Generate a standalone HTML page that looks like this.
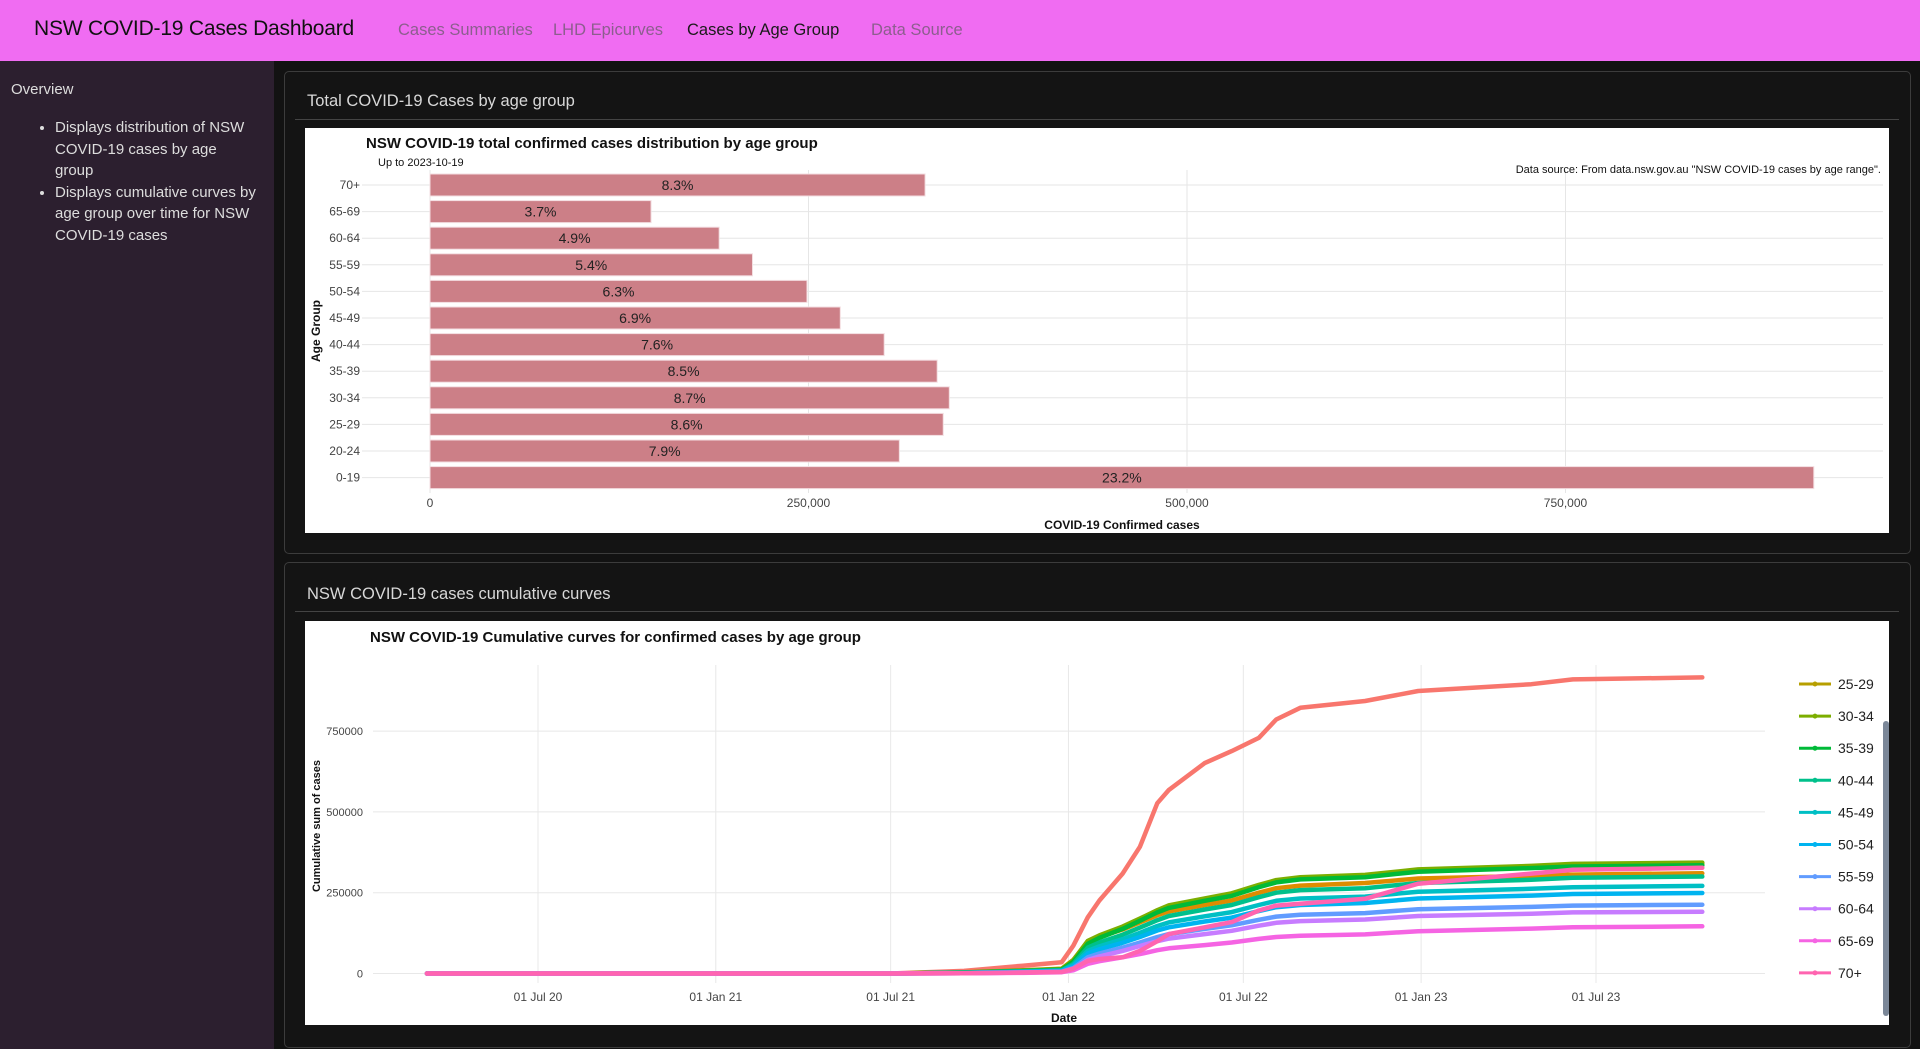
<!DOCTYPE html>
<html><head><meta charset="utf-8"><style>
html,body{margin:0;width:1920px;height:1049px;overflow:hidden}
body{background:#121212;font-family:"Liberation Sans",sans-serif;position:relative}
.abs{position:absolute}
#nav{left:0;top:0;width:1920px;height:61px;background:#f06cf2}
#nav .brand{left:34px;top:17px;font-size:21px;color:#111;letter-spacing:-0.2px}
#nav .lnk{top:21px;font-size:16.5px;color:#8c5e8e}
#side{left:0;top:61px;width:274px;height:988px;background:#2c1f2f}
.card{border:1px solid #3c3c3c;border-radius:5px;background:#141414}
.ch{font-size:16.5px;color:#d8d8d8}
.sep{height:1px;background:#444}
</style></head><body>
<div id="nav" class="abs">
<div class="abs brand">NSW COVID-19 Cases Dashboard</div>
<div class="abs lnk" style="left:398px">Cases Summaries</div>
<div class="abs lnk" style="left:553px">LHD Epicurves</div>
<div class="abs lnk" style="left:687px;color:#1a1a1a">Cases by Age Group</div>
<div class="abs lnk" style="left:871px">Data Source</div>
</div>
<div id="side" class="abs">
<div class="abs" style="left:11px;top:20px;font-size:15px;color:#ddd">Overview</div>
<ul class="abs" style="left:0;top:56px;margin:0;padding-left:55px;width:215px;font-size:15px;line-height:21.5px;color:#ddd;white-space:nowrap">
<li>Displays distribution of NSW<br>COVID-19 cases by age<br>group</li>
<li>Displays cumulative curves by<br>age group over time for NSW<br>COVID-19 cases</li>
</ul></div>

<div class="abs card" style="left:284px;top:71px;width:1625px;height:481px"></div>
<div class="abs ch" style="left:307px;top:92px">Total COVID-19 Cases by age group</div>
<div class="abs sep" style="left:295px;top:119px;width:1604px"></div>
<div class="abs card" style="left:284px;top:562px;width:1625px;height:484px"></div>
<div class="abs ch" style="left:307px;top:585px">NSW COVID-19 cases cumulative curves</div>
<div class="abs sep" style="left:295px;top:611px;width:1604px"></div>

<svg class="abs" id="bar" style="left:305px;top:128px" width="1584" height="405"></svg>
<svg class="abs" id="line" style="left:305px;top:621px" width="1584" height="404"></svg>

<script>
const NS='http://www.w3.org/2000/svg';
function mk(p,t,a){const e=document.createElementNS(NS,t);for(const k in a)e.setAttribute(k,a[k]);p.appendChild(e);return e;}
// ---- Bar chart data
const ageGroups=['70+','65-69','60-64','55-59','50-54','45-49','40-44','35-39','30-34','25-29','20-24','0-19'];
const caseCounts=[327000,146000,191000,213000,249000,271000,300000,335000,343000,339000,310000,914000];
const pctLabels=['8.3%','3.7%','4.9%','5.4%','6.3%','6.9%','7.6%','8.5%','8.7%','8.6%','7.9%','23.2%'];
const barTicks=[0,250000,500000,750000];
const barTickLabels=['0','250,000','500,000','750,000'];
// ---- Line chart data
const dates=['2020-03-08','2021-07-01','2021-09-15','2021-11-15','2021-12-25','2022-01-06','2022-01-21','2022-02-02','2022-02-26','2022-03-16','2022-04-03','2022-04-15','2022-05-22','2022-06-19','2022-07-17','2022-08-04','2022-08-29','2022-11-04','2022-12-29','2023-04-25','2023-06-07','2023-10-19'];
const seriesNames=['0-19','20-24','25-29','30-34','35-39','40-44','45-49','50-54','55-59','60-64','65-69','70+'];
const seriesColors=['#F8766D','#DE8C00','#B79F00','#7CAE00','#00BA38','#00C08B','#00BFC4','#00B4F0','#619CFF','#C77CFF','#F564E3','#FF64B0'];
const s0019=[0,0,8000,24000,35000,86000,174000,226000,309000,392000,527000,568000,651000,688000,729000,786000,822000,843000,874000,895000,910000,916000];
const s2024=[0,0,4000,10000,15000,42000,98000,113000,136000,158000,180000,192000,212000,226000,250000,264000,272000,280000,294000,302000,306000,310000];
const s2529=[0,0,3000,9000,14000,40000,100000,117000,143000,168000,193000,207000,229000,244000,270000,285000,294000,301000,318000,329000,335000,339000];
const s3034=[0,0,3000,9000,14000,41000,101000,118000,145000,170000,196000,211000,232000,248000,274000,289000,298000,305000,322000,333000,339000,343000];
const s3539=[0,0,3000,8000,12000,36000,92000,110000,138000,163000,189000,203000,225000,240000,267000,282000,291000,298000,315000,326000,331000,335000];
const s4044=[0,0,2000,7000,10000,30000,80000,96000,120000,142000,165000,178000,198000,212000,236000,250000,258000,264000,280000,290000,296000,300000];
const s4549=[0,0,2000,6000,9000,26000,70000,84000,106000,126000,147000,158000,177000,190000,212000,225000,232000,238000,253000,262000,267000,271000];
const s5054=[0,0,2000,5000,8000,22000,62000,75000,95000,113000,133000,143000,161000,173000,193000,205000,212000,218000,232000,241000,246000,249000];
const s5559=[0,0,1000,4000,6000,17000,50000,62000,80000,96000,113000,122000,138000,149000,166000,176000,182000,187000,199000,206000,210000,213000];
const s6064=[0,0,1000,3000,5000,14000,42000,53000,70000,85000,100000,108000,122000,132000,148000,157000,162000,167000,178000,185000,189000,191000];
const s6569=[0,0,1000,2000,4000,10000,30000,38000,50000,60000,72000,78000,88000,96000,107000,113000,117000,121000,131000,139000,143000,146000];
const s70p=[0,0,1000,3000,5000,15000,39000,45000,50000,70000,100000,122000,143000,159000,195000,210000,216000,231000,278000,309000,321000,327000];
const lineTicks=[0,250000,500000,750000];
const dateTicks=['2020-07-01','2021-01-01','2021-07-01','2022-01-01','2022-07-01','2023-01-01','2023-07-01'];
const dateTickLabels=['01 Jul 20','01 Jan 21','01 Jul 21','01 Jan 22','01 Jul 22','01 Jan 23','01 Jul 23'];

// ---- Draw bar chart
(function(){
const s=document.getElementById('bar');
mk(s,'rect',{x:0,y:0,width:1584,height:405,fill:'#fff'});
const x=v=>125+v*(378.5/250000);
const y=i=>57+i*26.6;
for(let i=0;i<ageGroups.length;i++){mk(s,'line',{x1:57,x2:1578,y1:y(i),y2:y(i),stroke:'#e6e6e6','stroke-width':1});}
barTicks.forEach((t,i)=>{mk(s,'line',{x1:x(t),x2:x(t),y1:42,y2:365,stroke:'#e6e6e6'});
const tx=mk(s,'text',{x:x(t),y:379,'text-anchor':'middle','font-size':12,fill:'#444'});tx.textContent=barTickLabels[i];

});
ageGroups.forEach((a,i)=>{
const r=mk(s,'rect',{x:x(0),y:y(i)-11,width:x(caseCounts[i])-x(0),height:22,fill:'#cc7f87',stroke:'#f3dde0','stroke-width':1});


const t=mk(s,'text',{x:(x(0)+x(caseCounts[i]))/2,y:y(i)+5,'text-anchor':'middle','font-size':14,fill:'#222'});t.textContent=pctLabels[i];


const l=mk(s,'text',{x:55,y:y(i)+4,'text-anchor':'end','font-size':12,fill:'#444'});l.textContent=a;


});
let t=mk(s,'text',{x:61,y:20,'font-size':15,'font-weight':'bold',fill:'#111'});t.textContent='NSW COVID-19 total confirmed cases distribution by age group';


t=mk(s,'text',{x:73,y:38,'font-size':11,fill:'#111'});t.textContent='Up to 2023-10-19';


t=mk(s,'text',{x:1576,y:45,'text-anchor':'end','font-size':11,fill:'#111'});t.textContent='Data source: From data.nsw.gov.au "NSW COVID-19 cases by age range".';


t=mk(s,'text',{x:817,y:401,'text-anchor':'middle','font-size':12,'font-weight':'bold',fill:'#111'});t.textContent='COVID-19 Confirmed cases';


t=mk(s,'text',{x:0,y:0,'text-anchor':'middle','font-size':12,'font-weight':'bold',fill:'#111',transform:'translate(15,203) rotate(-90)'});t.textContent='Age Group';


})();

// ---- Draw line chart
(function(){
const s=document.getElementById('line');
mk(s,'rect',{x:0,y:0,width:1584,height:404,fill:'#fff'});
const d0=Date.parse('2020-07-01');
const x=d=>233+(Date.parse(d)-d0)/86400000*0.9662;
const y=v=>352.5-v*(80.8/250000);
lineTicks.forEach(t=>{mk(s,'line',{x1:68,x2:1460,y1:y(t),y2:y(t),stroke:'#e8e8e8'});
const l=mk(s,'text',{x:58,y:y(t)+4,'text-anchor':'end','font-size':11,fill:'#444'});l.textContent=String(t);

});
dateTicks.forEach((d,i)=>{mk(s,'line',{x1:x(d),x2:x(d),y1:44,y2:362,stroke:'#e8e8e8'});
const l=mk(s,'text',{x:x(d),y:380,'text-anchor':'middle','font-size':12,fill:'#444'});l.textContent=dateTickLabels[i];

});
const all=[s0019,s2024,s2529,s3034,s3539,s4044,s4549,s5054,s5559,s6064,s6569,s70p];
all.forEach((vals,k)=>{
const pts=vals.map((v,i)=>x(dates[i]).toFixed(1)+','+y(v).toFixed(1)).join(' ');
const p=mk(s,'polyline',{points:pts,fill:'none',stroke:seriesColors[k],'stroke-width':4.5,'stroke-linejoin':'round','stroke-linecap':'round'});


});
for(let k=2;k<seriesNames.length;k++){
const ly=63+(k-2)*32.1;
const g=mk(s,'g',{});


mk(g,'line',{x1:1494,x2:1526,y1:ly,y2:ly,stroke:seriesColors[k],'stroke-width':3});
mk(g,'circle',{cx:1510,cy:ly,r:2.5,fill:seriesColors[k]});
const t=mk(g,'text',{x:1533,y:ly+5,'font-size':14,fill:'#222'});t.textContent=seriesNames[k];
}
const sb=mk(s,'rect',{x:1578,y:100,width:6,height:295,rx:3,fill:'#7b8798'});


let t=mk(s,'text',{x:65,y:21,'font-size':15,'font-weight':'bold',fill:'#111'});t.textContent='NSW COVID-19 Cumulative curves for confirmed cases by age group';


t=mk(s,'text',{x:759,y:401,'text-anchor':'middle','font-size':12,'font-weight':'bold',fill:'#111'});t.textContent='Date';


t=mk(s,'text',{x:0,y:0,'text-anchor':'middle','font-size':11,'font-weight':'bold',fill:'#111',transform:'translate(15,205) rotate(-90)'});t.textContent='Cumulative sum of cases';


})();
</script>
</body></html>
